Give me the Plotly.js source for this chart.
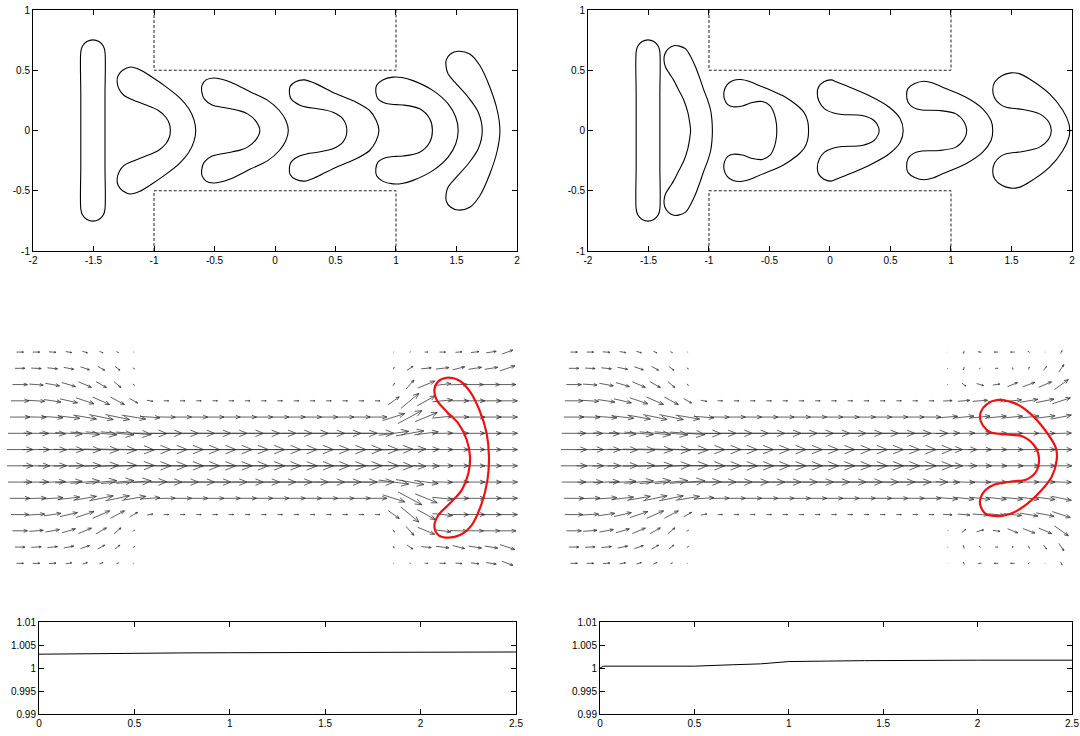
<!DOCTYPE html>
<html><head><meta charset="utf-8">
<script src="https://cdn.plot.ly/plotly-3.0.1.min.js"></script>
<style>html,body{margin:0;padding:0;background:#fff}#chart{width:1080px;height:736px}</style>
</head><body><div id="chart"></div>
<script>
const _ = null;
// ---------- tick labels ----------
const tickX = [-2,-1.5,-1,-0.5,0,0.5,1,1.5,2];
const tickXText = ['-2','-1.5','-1','-0.5','0','0.5','1','1.5','2'];
const tickY = [-1,-0.5,0,0.5,1];
const tickYText = ['-1','-0.5','0','0.5','1'];
const timeTicks = [0,0.5,1,1.5,2,2.5];
const timeTickText = ['0','0.5','1','1.5','2','2.5'];
const ratioTicks = [0.99,0.995,1,1.005,1.01];
const ratioTickText = ['0.99','0.995','1','1.005','1.01'];

// ---------- channel walls ----------
const wallX = [-1,-1,1,1];
const wallUpperY = [1,0.5,0.5,1];
const wallLowerY = [-1,-0.5,-0.5,-1];

// ---------- vesicle contours, top-left ----------
const tlV1 = [[-1.405,-0.65],[-1.405,-0.3],[-1.405,0],[-1.405,0.3],[-1.405,0.65],[-1.418,0.70],[-1.455,0.738],[-1.505,0.752],[-1.555,0.738],[-1.592,0.70],[-1.605,0.65],[-1.605,0.3],[-1.605,0],[-1.605,-0.3],[-1.605,-0.65],[-1.592,-0.70],[-1.555,-0.738],[-1.505,-0.752],[-1.455,-0.738],[-1.418,-0.70],[-1.405,-0.65]];
const tlV2 = [[-0.655,0],[-0.67,0.09],[-0.712,0.18],[-0.787,0.27],[-0.897,0.36],[-1.027,0.45],[-1.117,0.505],[-1.195,0.527],[-1.259,0.50],[-1.297,0.455],[-1.305,0.405],[-1.287,0.34],[-1.247,0.29],[-1.177,0.255],[-1.077,0.215],[-0.967,0.168],[-0.902,0.11],[-0.871,0.05],[-0.865,0],[-0.871,-0.05],[-0.902,-0.11],[-0.967,-0.168],[-1.077,-0.215],[-1.177,-0.255],[-1.247,-0.29],[-1.287,-0.34],[-1.305,-0.405],[-1.297,-0.455],[-1.259,-0.50],[-1.195,-0.527],[-1.117,-0.505],[-1.027,-0.45],[-0.897,-0.36],[-0.787,-0.27],[-0.712,-0.18],[-0.67,-0.09],[-0.655,0]];
const tlV3 = [[0.11,0],[0.09,0.083],[0.036,0.166],[-0.06,0.25],[-0.199,0.318],[-0.365,0.40],[-0.44,0.425],[-0.508,0.436],[-0.57,0.42],[-0.603,0.375],[-0.605,0.32],[-0.585,0.262],[-0.52,0.212],[-0.44,0.193],[-0.365,0.18],[-0.29,0.163],[-0.227,0.138],[-0.16,0.08],[-0.125,0],[-0.16,-0.08],[-0.227,-0.138],[-0.29,-0.163],[-0.365,-0.18],[-0.44,-0.193],[-0.52,-0.212],[-0.585,-0.262],[-0.605,-0.32],[-0.603,-0.375],[-0.57,-0.42],[-0.508,-0.436],[-0.44,-0.425],[-0.365,-0.40],[-0.199,-0.318],[-0.06,-0.25],[0.036,-0.166],[0.09,-0.083],[0.11,0]];
const tlV4 = [[0.859,0],[0.837,0.083],[0.782,0.166],[0.671,0.235],[0.506,0.304],[0.34,0.387],[0.243,0.42],[0.17,0.405],[0.125,0.365],[0.119,0.31],[0.133,0.262],[0.202,0.212],[0.27,0.192],[0.34,0.182],[0.478,0.152],[0.561,0.097],[0.594,0],[0.561,-0.097],[0.478,-0.152],[0.34,-0.182],[0.27,-0.192],[0.202,-0.212],[0.133,-0.262],[0.119,-0.31],[0.125,-0.365],[0.17,-0.405],[0.243,-0.42],[0.34,-0.387],[0.506,-0.304],[0.671,-0.235],[0.782,-0.166],[0.837,-0.083],[0.859,0]];
const tlV5 = [[1.514,0],[1.494,0.11],[1.431,0.221],[1.307,0.331],[1.141,0.414],[1.05,0.44],[0.975,0.443],[0.89,0.42],[0.84,0.375],[0.833,0.32],[0.851,0.262],[0.92,0.224],[1.0,0.215],[1.058,0.212],[1.196,0.18],[1.279,0.097],[1.301,0],[1.279,-0.097],[1.196,-0.18],[1.058,-0.212],[1.0,-0.215],[0.92,-0.224],[0.851,-0.262],[0.833,-0.32],[0.84,-0.375],[0.89,-0.42],[0.975,-0.443],[1.05,-0.44],[1.141,-0.414],[1.307,-0.331],[1.431,-0.221],[1.494,-0.11],[1.514,0]];
const tlV6 = [[1.859,0],[1.837,0.166],[1.776,0.359],[1.693,0.539],[1.61,0.635],[1.514,0.658],[1.45,0.635],[1.415,0.585],[1.414,0.53],[1.43,0.47],[1.486,0.401],[1.597,0.276],[1.68,0.152],[1.713,0],[1.68,-0.152],[1.597,-0.276],[1.486,-0.401],[1.43,-0.47],[1.414,-0.53],[1.415,-0.585],[1.45,-0.635],[1.514,-0.66],[1.61,-0.637],[1.693,-0.541],[1.776,-0.359],[1.837,-0.166],[1.859,0]];

// ---------- vesicle contours, top-right ----------
const trV1 = [[-1.406,-0.65],[-1.406,-0.3],[-1.406,0],[-1.406,0.3],[-1.406,0.65],[-1.419,0.70],[-1.456,0.738],[-1.504,0.752],[-1.552,0.738],[-1.589,0.70],[-1.602,0.65],[-1.602,0.3],[-1.602,0],[-1.602,-0.3],[-1.602,-0.65],[-1.589,-0.70],[-1.552,-0.738],[-1.504,-0.752],[-1.456,-0.738],[-1.419,-0.70],[-1.406,-0.65]];
const trV2 = [[-0.972,0],[-0.976,0.09],[-0.986,0.166],[-1.01,0.25],[-1.041,0.331],[-1.075,0.43],[-1.11,0.525],[-1.15,0.61],[-1.193,0.677],[-1.245,0.70],[-1.29,0.704],[-1.335,0.68],[-1.365,0.635],[-1.372,0.585],[-1.359,0.525],[-1.325,0.47],[-1.29,0.414],[-1.25,0.335],[-1.207,0.249],[-1.175,0.15],[-1.16,0.07],[-1.152,0],[-1.16,-0.07],[-1.175,-0.15],[-1.207,-0.249],[-1.25,-0.335],[-1.29,-0.414],[-1.325,-0.47],[-1.359,-0.525],[-1.372,-0.585],[-1.365,-0.635],[-1.335,-0.68],[-1.29,-0.704],[-1.245,-0.70],[-1.193,-0.677],[-1.15,-0.61],[-1.11,-0.525],[-1.075,-0.43],[-1.041,-0.331],[-1.01,-0.25],[-0.986,-0.166],[-0.976,-0.09],[-0.972,0]];
const trV3 = [[-0.177,0],[-0.185,0.08],[-0.215,0.15],[-0.254,0.193],[-0.32,0.245],[-0.392,0.29],[-0.49,0.335],[-0.586,0.373],[-0.66,0.405],[-0.738,0.423],[-0.80,0.415],[-0.85,0.38],[-0.876,0.32],[-0.872,0.26],[-0.845,0.215],[-0.80,0.197],[-0.724,0.204],[-0.641,0.233],[-0.558,0.24],[-0.495,0.205],[-0.458,0.13],[-0.442,0.05],[-0.44,0],[-0.442,-0.05],[-0.458,-0.13],[-0.495,-0.205],[-0.558,-0.24],[-0.641,-0.233],[-0.724,-0.204],[-0.80,-0.197],[-0.845,-0.215],[-0.872,-0.26],[-0.876,-0.32],[-0.85,-0.38],[-0.80,-0.415],[-0.738,-0.423],[-0.66,-0.405],[-0.586,-0.373],[-0.49,-0.335],[-0.392,-0.29],[-0.32,-0.245],[-0.254,-0.193],[-0.215,-0.15],[-0.185,-0.08],[-0.177,0]];
const trV4 = [[0.605,0],[0.58,0.097],[0.49,0.193],[0.322,0.29],[0.13,0.373],[0.05,0.405],[0.01,0.42],[-0.05,0.405],[-0.095,0.36],[-0.105,0.31],[-0.09,0.24],[-0.045,0.18],[0.03,0.145],[0.10,0.133],[0.267,0.124],[0.364,0.083],[0.40,0.03],[0.406,0],[0.40,-0.03],[0.364,-0.083],[0.267,-0.124],[0.10,-0.133],[0.03,-0.145],[-0.045,-0.18],[-0.09,-0.24],[-0.105,-0.31],[-0.095,-0.36],[-0.05,-0.405],[0.01,-0.42],[0.05,-0.405],[0.13,-0.373],[0.322,-0.29],[0.49,-0.193],[0.58,-0.097],[0.605,0]];
const trV5 = [[1.345,0],[1.331,0.083],[1.262,0.18],[1.124,0.276],[0.931,0.359],[0.85,0.395],[0.779,0.409],[0.70,0.39],[0.645,0.35],[0.633,0.30],[0.645,0.235],[0.69,0.19],[0.76,0.17],[0.903,0.166],[1.041,0.138],[1.11,0.069],[1.13,0],[1.11,-0.069],[1.041,-0.138],[0.903,-0.166],[0.76,-0.17],[0.69,-0.19],[0.645,-0.235],[0.633,-0.30],[0.645,-0.35],[0.70,-0.39],[0.779,-0.409],[0.85,-0.395],[0.931,-0.359],[1.124,-0.276],[1.262,-0.18],[1.331,-0.083],[1.345,0]];
const trV6 = [[1.981,0],[1.975,0.055],[1.925,0.166],[1.815,0.304],[1.649,0.428],[1.57,0.47],[1.497,0.478],[1.42,0.455],[1.36,0.40],[1.345,0.34],[1.36,0.27],[1.41,0.215],[1.456,0.193],[1.594,0.174],[1.732,0.138],[1.809,0.069],[1.829,0],[1.809,-0.069],[1.732,-0.138],[1.594,-0.174],[1.456,-0.193],[1.41,-0.215],[1.36,-0.27],[1.345,-0.34],[1.36,-0.40],[1.42,-0.455],[1.497,-0.478],[1.57,-0.47],[1.649,-0.428],[1.815,-0.304],[1.925,-0.166],[1.975,-0.055],[1.981,0]];

// ---------- red vesicles in the velocity plots ----------
const lqVesicle = [[1.733,0.008],[1.715,0.187],[1.664,0.354],[1.587,0.508],[1.497,0.597],[1.408,0.615],[1.34,0.585],[1.313,0.521],[1.331,0.444],[1.408,0.354],[1.497,0.264],[1.562,0.136],[1.587,0.008],[1.574,-0.121],[1.523,-0.249],[1.433,-0.351],[1.344,-0.441],[1.313,-0.531],[1.344,-0.595],[1.421,-0.615],[1.510,-0.595],[1.600,-0.518],[1.677,-0.351],[1.721,-0.172],[1.733,0.008]];
const rqVesicle = [[1.839,-0.018],[1.834,0.072],[1.749,0.213],[1.634,0.341],[1.518,0.418],[1.377,0.444],[1.30,0.41],[1.255,0.35],[1.255,0.28],[1.30,0.215],[1.339,0.192],[1.455,0.179],[1.583,0.162],[1.673,0.085],[1.703,-0.005],[1.680,-0.108],[1.608,-0.167],[1.480,-0.185],[1.352,-0.210],[1.270,-0.274],[1.249,-0.351],[1.288,-0.428],[1.390,-0.449],[1.480,-0.433],[1.583,-0.377],[1.711,-0.262],[1.801,-0.146],[1.839,-0.018]];

// ---------- velocity grid ----------
const qColsX = [-1.875,-1.75,-1.625,-1.5,-1.375,-1.25,-1.125,-1.0,-0.875,-0.75,-0.625,-0.5,-0.375,-0.25,-0.125,0,0.125,0.25,0.375,0.5,0.625,0.75,0.875,1.0,1.125,1.25,1.375,1.5,1.625,1.75,1.875];
const qRowsY = [0.8125,0.6875,0.5625,0.4375,0.3125,0.1875,0.0625,-0.0625,-0.1875,-0.3125,-0.4375,-0.5625,-0.6875,-0.8125];

// inflow part (columns x=-1.875 .. 0.875), same in both velocity plots
const inflowU = [
 [7,7,7,6,5,3.5,2,0.5, _,_,_,_,_,_,_,_,_,_,_,_,_,_,_],
 [10,10,10,10,9,7,5,1.5, _,_,_,_,_,_,_,_,_,_,_,_,_,_,_],
 [15,14,14,13.5,13,10.5,7,1.5, _,_,_,_,_,_,_,_,_,_,_,_,_,_,_],
 [18,17,17,17.5,18,17,14,8, 6,5,5,5,5,5,5,5,5,5,5,5,5,5,5],
 [20,20,21,22,23,24,24,24, 20,18,18,18,18,18,18,18,18,18,18,18,18,18,19],
 [24,25,26,27,29,31,33,35, 34,32,32,32,32,32,32,32,32,32,32,32,32,32,33],
 [26,27,28,30,32,35,38,41, 42,42,42,42,42,42,42,42,42,42,42,42,42,42,42],
 [26,27,28,30,32,35,38,41, 42,42,42,42,42,42,42,42,42,42,42,42,42,42,42],
 [24,25,26,27,29,31,33,35, 34,32,32,32,32,32,32,32,32,32,32,32,32,32,33],
 [20,20,21,22,23,24,24,24, 20,18,18,18,18,18,18,18,18,18,18,18,18,18,19],
 [18,17,17,17.5,18,17,14,8, 6,5,5,5,5,5,5,5,5,5,5,5,5,5,5],
 [15,14,14,13.5,13,10.5,7,1.5, _,_,_,_,_,_,_,_,_,_,_,_,_,_,_],
 [10,10,10,10,9,7,5,1.5, _,_,_,_,_,_,_,_,_,_,_,_,_,_,_],
 [7,7,7,6,5,3.5,2,0.5, _,_,_,_,_,_,_,_,_,_,_,_,_,_,_]
];
const inflowV = [
 [0,0,-0.5,-1,-1.5,-1.5,-1,-0.3, _,_,_,_,_,_,_,_,_,_,_,_,_,_,_],
 [0,-0.5,-1,-2,-3,-4,-4,-1.5, _,_,_,_,_,_,_,_,_,_,_,_,_,_,_],
 [0,-1,-2.5,-4,-5.5,-6,-6,-1.5, _,_,_,_,_,_,_,_,_,_,_,_,_,_,_],
 [0,-1,-2.5,-4,-6,-7.5,-7.5,-4.5, -1,0,0,0,0,0,0,0,0,0,0,0,0,0,0],
 [0,-0.5,-1.5,-2.5,-4,-5,-5,-4, -1.5,-0.3,0,0,0,0,0,0,0,0,0,0,0,0,0],
 [0,-0.3,-1,-1.5,-2.5,-3,-3,-2.5, -0.5,0,0,0,0,0,0,0,0,0,0,0,0,0,0],
 [0,0,-0.3,-0.5,-0.8,-1,-1,-0.8, 0,0,0,0,0,0,0,0,0,0,0,0,0,0,0],
 [0,0,0.3,0.5,0.8,1,1,0.8, 0,0,0,0,0,0,0,0,0,0,0,0,0,0,0],
 [0,0.3,1,1.5,2.5,3,3,2.5, 0.5,0,0,0,0,0,0,0,0,0,0,0,0,0,0],
 [0,0.5,1.5,2.5,4,5,5,4, 1.5,0.3,0,0,0,0,0,0,0,0,0,0,0,0,0],
 [0,1,2.5,4,6,7.5,7.5,4.5, 1,0,0,0,0,0,0,0,0,0,0,0,0,0,0],
 [0,1,2.5,4,5.5,6,6,1.5, _,_,_,_,_,_,_,_,_,_,_,_,_,_,_],
 [0,0.5,1,2,3,4,4,1.5, _,_,_,_,_,_,_,_,_,_,_,_,_,_,_],
 [0,0,0.5,1,1.5,1.5,1,0.3, _,_,_,_,_,_,_,_,_,_,_,_,_,_,_]
];
// outflow part (columns x=1.0 .. 1.875), left velocity plot
const lqOutU = [
 [0.5,1,3,6,6.5,8,10,11],
 [1,6,10,13,12,13,13,15],
 [1.5,8,17,17,17,17,17,17],
 [11,18,18,20,20,20,20,20],
 [22,24,22,20,20,20,20,20],
 [30,28,24,20,20,20,20,20],
 [38,32,26,21,20,20,20,20],
 [38,32,26,21,20,20,20,20],
 [30,28,24,20,20,20,20,20],
 [22,24,22,20,20,20,20,20],
 [11,18,18,20,20,20,20,20],
 [1.5,8,17,17,17,17,17,17],
 [1,6,10,13,12,13,13,15],
 [0.5,1,3,6,6.5,8,10,11]
];
const lqOutV = [
 [0.3,0.5,0,0,0.5,1,1.5,4],
 [2,4,1,1.5,3,2,2,5],
 [2.5,9,7,2,0.5,0,0,0],
 [8,15,10,2,0,0,0,0],
 [7,13,9,2,0,0,0,0],
 [4,5,3,0.5,0,0,0,0],
 [1,1,0.5,0,0,0,0,0],
 [-1,-1,-0.5,0,0,0,0,0],
 [-4,-5,-3,-0.5,0,0,0,0],
 [-7,-13,-9,-2,0,0,0,0],
 [-8,-15,-10,-2,0,0,0,0],
 [-2.5,-9,-7,-2,-0.5,0,0,0],
 [-2,-4,-1,-1.5,-3,-2,-2,-5],
 [-0.3,-0.5,0,0,-0.5,-1,-1.5,-4]
];
// outflow part, right velocity plot
const rqOutU = [
 [0.3,-1,-3,-4,-4,-1.5,0,1.5],
 [0.3,-1,-1,2.5,0.5,1,3,5],
 [0.5,4,7,7,10,12,13,14],
 [9,12,15,16,18,18,18,18],
 [20,20,20,20,20,20,20,20],
 [24,22,21,21,20,20,20,20],
 [30,26,23,21,21,21,21,21],
 [30,26,23,21,21,21,21,21],
 [24,22,21,21,20,20,20,20],
 [20,20,20,20,20,20,20,20],
 [9,12,15,16,18,18,18,18],
 [0.5,4,7,7,10,12,13,14],
 [0.3,-1,-1,2.5,0.5,1,3,5],
 [0.3,-1,-3,-4,-4,-1.5,0,1.5]
];
const rqOutV = [
 [0.3,-2.5,0.5,0,0,1.5,0.5,3],
 [0.5,-3,-1,0,-2,2.5,4,7.5],
 [-0.5,-3,-2,1,4,4.5,5.5,10],
 [0.5,1,1,1.5,2,3,3.5,6],
 [1.5,2,2,2,2,2,2.5,4],
 [0.5,0.5,0.3,0,0,0,0,0.5],
 [0,0,0,0,0,0,0,0],
 [0,0,0,0,0,0,0,0],
 [-0.5,-0.5,-0.3,0,0,0,0,-0.5],
 [-1.5,-2,-2,-2,-2,-2,-2.5,-4],
 [-0.5,-1,-1,-1.5,-2,-3,-3.5,-6],
 [0.5,3,2,-1,-4,-4.5,-5.5,-10],
 [-0.5,3,1,0,2,-2.5,-4,-7.5],
 [-0.3,2.5,-0.5,0,0,-1.5,-0.5,-3]
];

// ---------- time series ----------
const timeL = [0,0.1,0.3,0.5,0.75,1,1.5,2,2.5];
const ratioL = [1.0030,1.00305,1.00315,1.00322,1.00328,1.00332,1.00335,1.0034,1.00348];
const timeR = [0,0.02,0.5,0.55,0.7,0.85,0.88,0.95,1.0,1.2,1.4,2.0,2.5];
const ratioR = [1.0000,1.0004,1.0004,1.0005,1.0007,1.0009,1.0010,1.0013,1.0014,1.0015,1.0016,1.0017,1.0017];

// ---------- styling ----------
const arrowScale = 1/130, headFrac = 0.27, headAng = 22*Math.PI/180;
const tickFont = {family:'Liberation Sans, Arial, sans-serif', size:10, color:'#000'};

function curve(pts, xa, ya, color, width){
  return {x:pts.map(p=>p[0]), y:pts.map(p=>p[1]), xaxis:xa, yaxis:ya, type:'scatter', mode:'lines',
    line:{color:color, width:width, shape:'spline', smoothing:0.9}, hoverinfo:'skip', showlegend:false};
}
function walls(xa, ya){
  const st = {color:'#222', width:1, dash:'3px,2px'};
  return [
    {x:wallX, y:wallUpperY, xaxis:xa, yaxis:ya, mode:'lines', line:st, hoverinfo:'skip', showlegend:false},
    {x:wallX, y:wallLowerY, xaxis:xa, yaxis:ya, mode:'lines', line:st, hoverinfo:'skip', showlegend:false}
  ];
}
function quiver(outU, outV, xa, ya){
  const xs = [], ys = [];
  for (let r = 0; r < qRowsY.length; r++){
    const U = inflowU[r].concat(outU[r]), V = inflowV[r].concat(outV[r]);
    for (let c = 0; c < qColsX.length; c++){
      if (U[c] === null || V[c] === null) continue;
      const du = U[c]*arrowScale, dv = V[c]*arrowScale;
      const L = Math.hypot(du, dv); if (L === 0) continue;
      const cx = qColsX[c], cy = qRowsY[r];
      const tx = cx - du/2, ty = cy - dv/2, hx = cx + du/2, hy = cy + dv/2;
      const th = Math.atan2(dv, du), h = headFrac*L;
      xs.push(tx, hx, null, hx - h*Math.cos(th-headAng), hx, hx - h*Math.cos(th+headAng), null);
      ys.push(ty, hy, null, hy - h*Math.sin(th-headAng), hy, hy - h*Math.sin(th+headAng), null);
    }
  }
  return {x:xs, y:ys, xaxis:xa, yaxis:ya, mode:'lines', line:{color:'#383838', width:0.8},
    hoverinfo:'skip', showlegend:false};
}

const traces = [];
traces.push(...walls('x','y'));
[tlV1,tlV2,tlV3,tlV4,tlV5,tlV6].forEach(v => traces.push(curve(v,'x','y','#000',1.1)));
traces.push(...walls('x2','y2'));
[trV1,trV2,trV3,trV4,trV5,trV6].forEach(v => traces.push(curve(v,'x2','y2','#000',1.1)));
traces.push(quiver(lqOutU, lqOutV, 'x3','y3'));
traces.push(curve(lqVesicle,'x3','y3','#ee1111',2.2));
traces.push(quiver(rqOutU, rqOutV, 'x4','y4'));
traces.push(curve(rqVesicle,'x4','y4','#ee1111',2.2));
traces.push({x:timeL, y:ratioL, xaxis:'x5', yaxis:'y5', mode:'lines', line:{color:'#000', width:1}, hoverinfo:'skip', showlegend:false});
traces.push({x:timeR, y:ratioR, xaxis:'x6', yaxis:'y6', mode:'lines', line:{color:'#000', width:1}, hoverinfo:'skip', showlegend:false});

function frameAxis(extra){
  return Object.assign({ticks:'inside', ticklen:5, tickwidth:1, tickcolor:'#000', showline:true, linecolor:'#000',
    linewidth:1, mirror:'ticks', showgrid:false, zeroline:false, tickfont:tickFont, fixedrange:true,
    tickmode:'array'}, extra);
}
const hidden = {visible:false, showgrid:false, zeroline:false, fixedrange:true};

const layout = {
  width:1080, height:736, margin:{l:0,r:0,t:0,b:0}, paper_bgcolor:'#fff', plot_bgcolor:'rgba(0,0,0,0)',
  showlegend:false, font:tickFont,
  xaxis: frameAxis({domain:[0.03056,0.47870], range:[-2,2], anchor:'y', tickvals:tickX, ticktext:tickXText}),
  yaxis: frameAxis({domain:[0.65897,0.98641], range:[-1,1], anchor:'x', tickvals:tickY, ticktext:tickYText}),
  xaxis2: frameAxis({domain:[0.54444,0.99259], range:[-2,2], anchor:'y2', tickvals:tickX, ticktext:tickXText}),
  yaxis2: frameAxis({domain:[0.65897,0.98641], range:[-1,1], anchor:'x2', tickvals:tickY, ticktext:tickYText}),
  xaxis3: Object.assign({domain:[0.00343,0.48491], range:[-2,2], anchor:'y3'}, hidden),
  yaxis3: Object.assign({domain:[0.20149,0.55476], range:[-1,1], anchor:'x3'}, hidden),
  xaxis4: Object.assign({domain:[0.51630,0.99778], range:[-2,2], anchor:'y4'}, hidden),
  yaxis4: Object.assign({domain:[0.20149,0.55476], range:[-1,1], anchor:'x4'}, hidden),
  xaxis5: frameAxis({domain:[0.03611,0.47778], range:[0,2.5], anchor:'y5', tickvals:timeTicks, ticktext:timeTickText}),
  yaxis5: frameAxis({domain:[0.02989,0.15489], range:[0.99,1.01], anchor:'x5', tickvals:ratioTicks, ticktext:ratioTickText}),
  xaxis6: frameAxis({domain:[0.55556,0.99259], range:[0,2.5], anchor:'y6', tickvals:timeTicks, ticktext:timeTickText}),
  yaxis6: frameAxis({domain:[0.02989,0.15489], range:[0.99,1.01], anchor:'x6', tickvals:ratioTicks, ticktext:ratioTickText})
};

Plotly.newPlot('chart', traces, layout, {displayModeBar:false, staticPlot:true});
</script></body></html>
